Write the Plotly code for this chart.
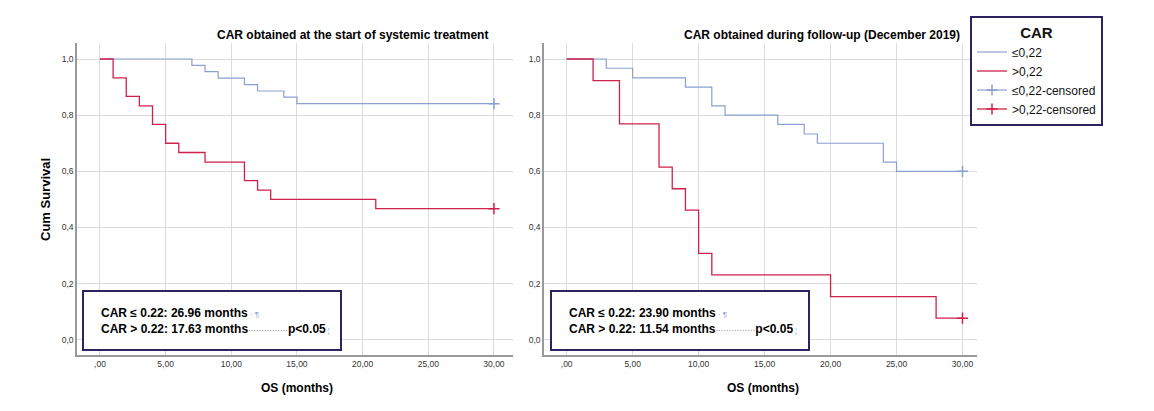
import plotly.graph_objects as go

W, H = 1146, 403   # page body has an 8px margin in the 1154x411 window
OFF = 8

# ---- data ----
# Left panel: CAR at start of systemic treatment
left_low_t = [0, 7, 8, 9, 11, 12, 14, 15, 30]
left_low_s = [1.0, 0.977, 0.955, 0.932, 0.909, 0.886, 0.864, 0.841, 0.841]
left_high_t = [0, 1, 2, 3, 4, 5, 6, 8, 11, 12, 13, 21, 30]
left_high_s = [1.0, 0.933, 0.867, 0.833, 0.767, 0.700, 0.667, 0.633, 0.567, 0.533, 0.500, 0.467, 0.467]

# Right panel: CAR during follow-up (December 2019)
right_low_t = [0, 3, 5, 9, 11, 12, 16, 18, 19, 24, 25, 30]
right_low_s = [1.0, 0.967, 0.933, 0.900, 0.833, 0.800, 0.767, 0.733, 0.700, 0.633, 0.600, 0.600]
right_high_t = [0, 2, 4, 7, 8, 9, 10, 11, 20, 28, 30]
right_high_s = [1.0, 0.923, 0.769, 0.615, 0.538, 0.462, 0.308, 0.231, 0.154, 0.077, 0.077]

cens_t = 30
x_ticks = [0, 5, 10, 15, 20, 25, 30]
x_ticktext = [",00", "5,00", "10,00", "15,00", "20,00", "25,00", "30,00"]
y_ticks = [0, 0.2, 0.4, 0.6, 0.8, 1.0]
y_ticktext = ["0,0", "0,2", "0,4", "0,6", "0,8", "1,0"]

titles = ["CAR obtained at the start of systemic treatment",
          "CAR obtained during follow-up (December 2019)"]
box_lines = [("26.96", "17.63"), ("23.90", "11.54")]

BLUE = "#8b9fd0"
RED = "#d0214e"
BOX = "#2e2360"
FONT = "Liberation Sans"

fig = go.Figure()

panels = [
    (left_low_t, left_low_s, left_high_t, left_high_s, "x", "y"),
    (right_low_t, right_low_s, right_high_t, right_high_s, "x2", "y2"),
]
for i, (lt, ls, ht, hs, xa, ya) in enumerate(panels):
    show = i == 1
    fig.add_trace(go.Scatter(x=lt, y=ls, mode="lines", line=dict(color=BLUE, width=1.2, shape="hv"),
                             name="≤0,22", legendrank=1, showlegend=show, xaxis=xa, yaxis=ya))
    fig.add_trace(go.Scatter(x=ht, y=hs, mode="lines", line=dict(color=RED, width=1.3, shape="hv"),
                             name=">0,22", legendrank=2, showlegend=show, xaxis=xa, yaxis=ya))
    fig.add_trace(go.Scatter(x=[cens_t], y=[ls[-1]], mode="lines+markers",
                             line=dict(color=BLUE, width=1.2),
                             marker=dict(symbol="cross-thin", size=8, line=dict(color=BLUE, width=1.5)),
                             name="≤0,22-censored", legendrank=3, showlegend=show, xaxis=xa, yaxis=ya))
    fig.add_trace(go.Scatter(x=[cens_t], y=[hs[-1]], mode="lines+markers",
                             line=dict(color=RED, width=1.3),
                             marker=dict(symbol="cross-thin", size=8, line=dict(color=RED, width=1.5)),
                             name=">0,22-censored", legendrank=4, showlegend=show, xaxis=xa, yaxis=ya))

def px_x(p):
    return (p - OFF) / W

def px_y(p):
    return 1 - (p - OFF) / H

ydom = [px_y(355), px_y(43)]
common_x = dict(tickvals=x_ticks, ticktext=x_ticktext, showgrid=True, gridcolor="#dcdcdc", gridwidth=1,
                zeroline=False, showline=True, linecolor="#999999", linewidth=1.5, ticks="",
                tickfont=dict(family=FONT, size=8.5, color="#333333"))
common_y = dict(tickvals=y_ticks, ticktext=y_ticktext, showgrid=True, gridcolor="#dcdcdc", gridwidth=1,
                zeroline=False, showline=True, linecolor="#999999", linewidth=1.5, ticks="",
                tickfont=dict(family=FONT, size=8.5, color="#333333"), domain=ydom)

fig.update_layout(
    width=W, height=H, margin=dict(l=0, r=0, t=0, b=0),
    paper_bgcolor="white", plot_bgcolor="white",
    font=dict(family=FONT, color="#000000"),
    xaxis=dict(domain=[px_x(77), px_x(513)], range=[-1.75, 31.45], anchor="y", **common_x),
    yaxis=dict(range=[-0.054, 1.057], anchor="x", **common_y),
    xaxis2=dict(domain=[px_x(544), px_x(977)], range=[-1.72, 31.1], anchor="y2", **common_x),
    yaxis2=dict(range=[-0.054, 1.057], anchor="x2", **common_y),
    legend=dict(x=px_x(970), y=px_y(16), xanchor="left", yanchor="top",
                bordercolor=BOX, borderwidth=2, bgcolor="white",
                title=dict(text="<b>CAR</b>", side="top center", font=dict(family=FONT, size=15)),
                font=dict(family=FONT, size=12, color="#111111"),
                tracegroupgap=0, itemwidth=30, traceorder="normal"),
    showlegend=True,
)

annotations = []
shapes = []
# Titles
title_right = [490, 962]
for i, t in enumerate(titles):
    annotations.append(dict(text="<b>" + t + "</b>", x=px_x(title_right[i]), y=px_y(35),
                            xref="paper", yref="paper", xanchor="right", yanchor="middle",
                            showarrow=False, font=dict(family=FONT, size=12)))
# X titles
for cx in [297, 763]:
    annotations.append(dict(text="<b>OS (months)</b>", x=px_x(cx), y=px_y(388), xref="paper", yref="paper",
                            xanchor="center", yanchor="middle", showarrow=False,
                            font=dict(family=FONT, size=12)))
# Y title
annotations.append(dict(text="<b>Cum Survival</b>", x=px_x(45), y=px_y(200), xref="paper", yref="paper",
                        xanchor="center", yanchor="middle", textangle=-90, showarrow=False,
                        font=dict(family=FONT, size=13)))

# Median survival boxes
box_x = [(83, 341), (551, 809)]
for i, (a, b) in enumerate(box_lines):
    x0, x1 = box_x[i]
    shapes.append(dict(type="rect", xref="paper", yref="paper", x0=px_x(x0), x1=px_x(x1),
                       y0=px_y(350), y1=px_y(291), line=dict(color=BOX, width=2), fillcolor="white"))
    line1 = ("<b>CAR ≤ 0.22: " + a + " months</b>"
             + "<span style='color:#8b9fd0;font-size:8px'> · ¶</span>")
    line2 = ("<b>CAR > 0.22: " + b + " months</b>"
             + "<span style='color:#555555;font-size:8px'>···············</span>"
             + "<b>p&lt;0.05</b><span style='color:#8b9fd0;font-size:7px'> ¦</span>")
    annotations.append(dict(text=line1 + "<br>" + line2, x=px_x(x0 + 16), y=px_y(320.5),
                            xref="paper", yref="paper", xanchor="left", yanchor="middle",
                            align="left", showarrow=False, font=dict(family=FONT, size=12)))

fig.update_layout(annotations=annotations, shapes=shapes)
fig.write_html("out.html")
